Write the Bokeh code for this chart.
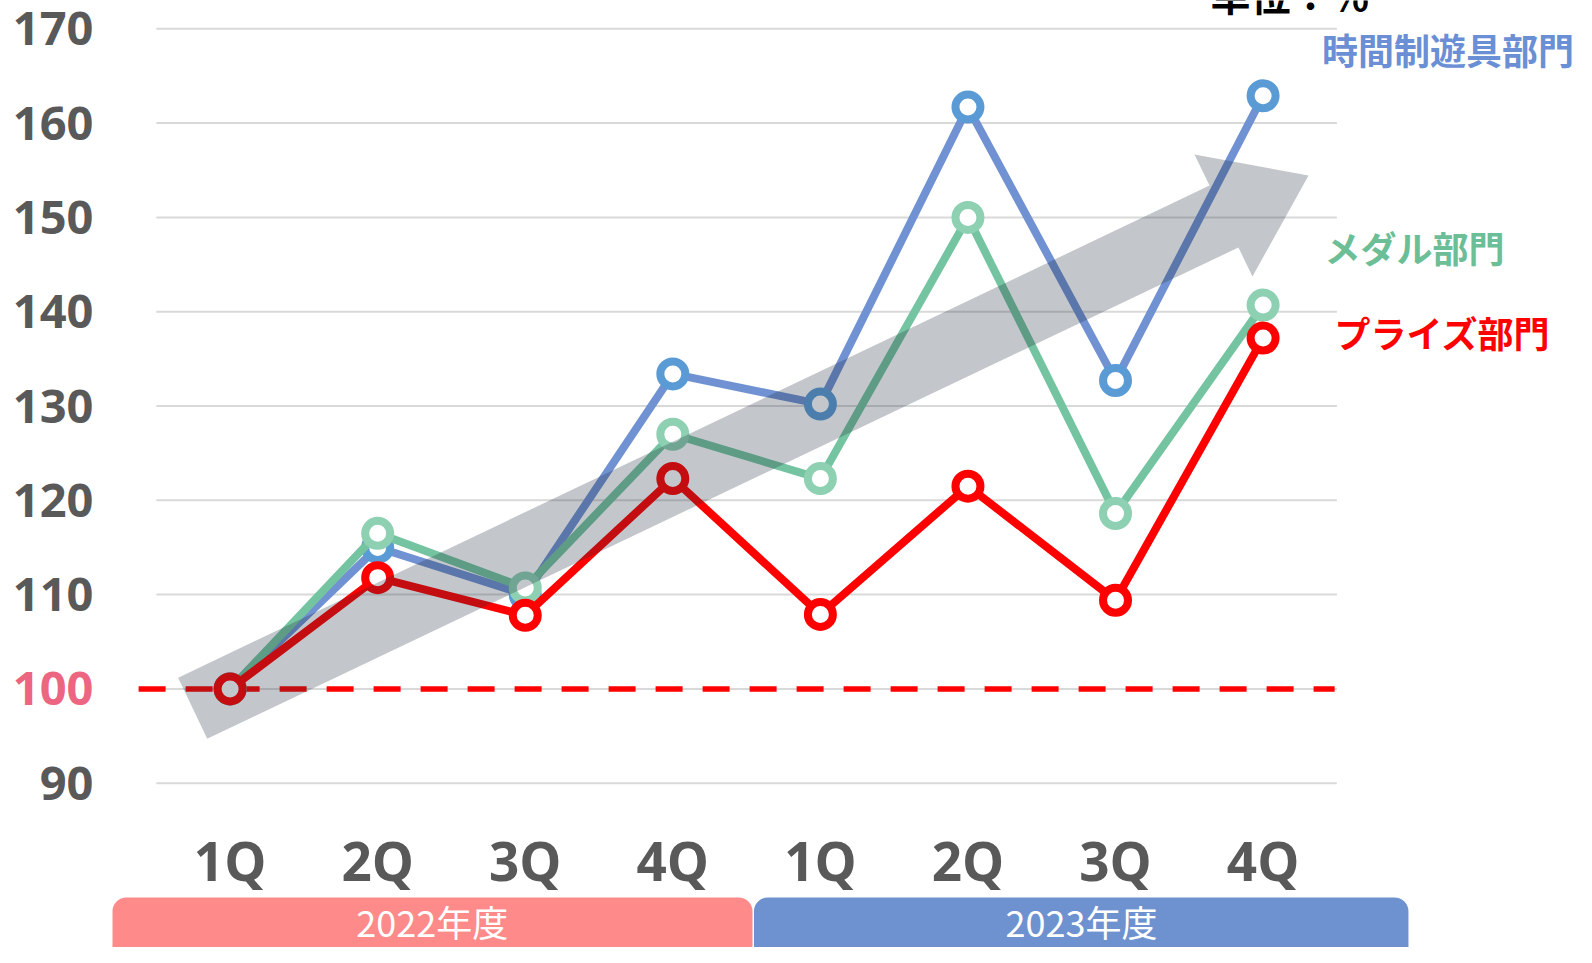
from bokeh.plotting import figure
from bokeh.models import ColumnDataSource, Range1d
from bokeh.core.properties import value
from bokeh.embed import file_html
from bokeh.resources import INLINE

# ---------------- data ----------------
quarters = ["1Q", "2Q", "3Q", "4Q", "1Q", "2Q", "3Q", "4Q"]
fiscal_years = ["2022年度", "2023年度"]
series_names = ["時間制遊具部門", "メダル部門", "プライズ部門"]
timed_play = [100.0, 115.0, 110.0, 133.4, 130.2, 161.7, 132.7, 162.9]
medal = [100.0, 116.5, 110.7, 127.0, 122.3, 150.0, 118.6, 140.7]
prize = [100.0, 111.8, 107.8, 122.3, 107.9, 121.5, 109.4, 137.2]
y_ticks = [90, 100, 110, 120, 130, 140, 150, 160, 170]
baseline_value = 100
unit_label = "単位：%"

# ---------------- layout / style ----------------
W, H = 1576, 947
GRAY_TXT = "#595959"
PINK_TXT = "#EC6581"
line_colors = ["#7091D2", "#75C4A1", "#FF0000"]
marker_colors = ["#5B9BD5", "#8ED0B2", "#FF0000"]
label_colors = ["#6A8FD5", "#6BBE96", "#FF0000"]
band_colors = ["#FF8A8A", "#6E91D0"]

p = figure(width=W, height=H, output_backend="svg", toolbar_location=None,
           x_range=Range1d(-1.5559, 9.1238), y_range=Range1d(72.577, 173.001),
           x_axis_location=None, y_axis_location=None, min_border=0,
           outline_line_color=None, background_fill_color="white",
           border_fill_color="white")
p.xgrid.visible = False
p.ygrid.visible = False

xs = list(range(len(quarters)))

# horizontal grid lines
p.segment(x0=-0.5, x1=7.5, y0=y_ticks, y1=y_ticks, line_color="#D9D9D9", line_width=2)

# dashed 100 baseline
p.segment(x0=[-0.62], x1=[7.485], y0=[baseline_value], y1=[baseline_value],
          line_color="#FF0000", line_width=5.5, line_dash="27 20")

# series
for vals, lc, mc in zip([timed_play, medal, prize], line_colors, marker_colors):
    p.line(xs, vals, line_color=lc, line_width=8, line_join="round")
    p.scatter(xs, vals, size=25, fill_color="white", line_color=mc, line_width=8)

# translucent trend arrow (drawn on top)
arrow_x = [-0.352, 6.637, 6.535, 7.308, 6.928, 6.833, -0.155]
arrow_y = [101.18, 153.38, 156.67, 154.44, 143.73, 146.81, 94.71]
p.patch(arrow_x, arrow_y, fill_color="#203040", fill_alpha=0.27, line_color=None)

# y tick labels
ysrc = ColumnDataSource(dict(y=y_ticks, t=[str(v) for v in y_ticks],
                             c=[PINK_TXT if v == baseline_value else GRAY_TXT for v in y_ticks]))
p.text(x=-0.926, y="y", text="t", source=ysrc, text_color="c",
       text_font=value("Open Sans"), text_font_style="bold",
       text_font_size=value("47px"), text_align="right", text_baseline="middle")

# x category labels
p.text(x=xs, y=[81.75] * len(xs), text=quarters, text_color=GRAY_TXT,
       text_font=value("Open Sans"), text_font_style="bold",
       text_font_size=value("53px"), text_align="center", text_baseline="middle")

# fiscal year bands
p.quad(left=[-0.797, 3.55], right=[3.54, 7.985], bottom=[69.0, 69.0], top=[77.88, 77.88],
       fill_color=band_colors, line_color=None, border_radius=14)
p.text(x=[1.37, 5.77], y=[75.44, 75.44], text=fiscal_years, text_color="white",
       text_font=value("Noto Sans CJK JP"), text_font_size=value("36px"),
       text_align="center", text_baseline="middle")

# series labels
p.text(x=[7.400, 7.416, 7.484], y=[167.81, 146.81, 137.80], text=series_names,
       text_color=label_colors, text_font=value("Noto Sans CJK JP"),
       text_font_style="bold", text_font_size=value("36px"),
       text_align="left", text_baseline="middle")

# unit label (cut off at top as in original)
p.text(x=[6.644], y=[173.64], text=[unit_label], text_color="black",
       text_font=value("Noto Sans CJK JP"), text_font_style="bold",
       text_font_size=value("40px"), text_align="left", text_baseline="alphabetic")

open("out.html", "w").write(file_html(p, INLINE))
